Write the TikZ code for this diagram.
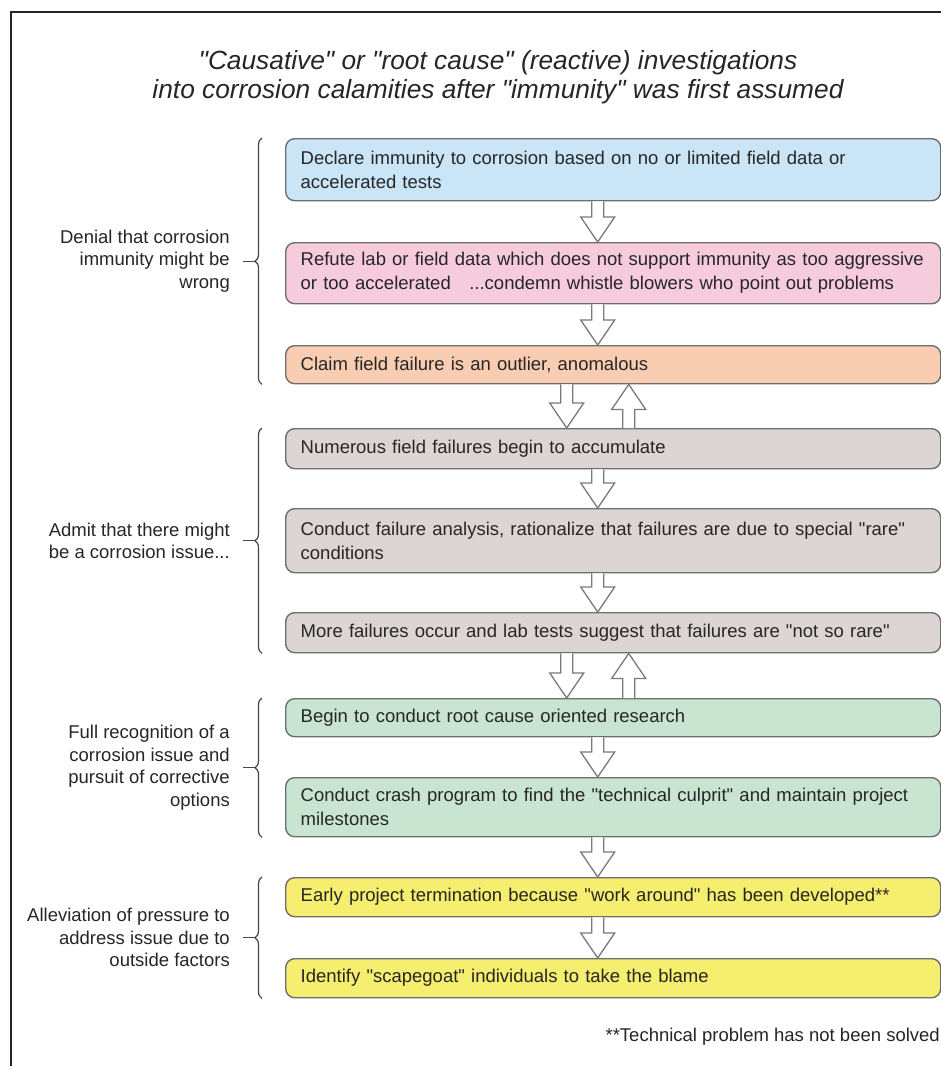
\documentclass[tikz,border=0pt]{standalone}
\usepackage{fontspec}
\setmainfont{Liberation Sans}[Ligatures=TeXOff]
\usetikzlibrary{calc,decorations.pathreplacing}
\definecolor{cblue}{HTML}{C9E5F6}
\definecolor{cpink}{HTML}{F6CCDD}
\definecolor{corange}{HTML}{F8CDB2}
\definecolor{cgray}{HTML}{DDD4D4}
\definecolor{cgreen}{HTML}{C9E5D2}
\definecolor{cyellow}{HTML}{F6EE6E}
\definecolor{cedge}{HTML}{6E6E6E}
\definecolor{carrow}{HTML}{7A7A7A}
\definecolor{cink}{HTML}{262626}
\tikzset{
  stepbox/.style={draw=cedge, line width=1.4pt, rounded corners=9pt, anchor=north west,
    minimum width=655pt, text width=625pt, align=left, inner xsep=15pt, inner ysep=2pt,
    font=\fontsize{18.5}{24}\selectfont, text=cink},
  blockarrow/.style={draw=carrow, line width=1.3pt, fill=white, line join=miter},
  bracestyle/.style={draw=cink!85, line width=1.2pt, decorate, decoration={brace, amplitude=7pt}},
  ticksty/.style={draw=cink!85, line width=1.2pt},
  grouplabel/.style={anchor=east, align=right, font=\fontsize{18.5}{22.5}\selectfont, text=cink, inner sep=0pt},
}
\newcommand{\dnarr}[3]{%
  \draw[blockarrow] let \p1=($(#1.south)+(#3,0)$), \p2=($(#2.north)+(#3,0)$) in
    (\x1-6pt,\y1) -- (\x1-6pt,\y2+25pt) -- (\x1-17pt,\y2+25pt) -- (\x1,\y2)
    -- (\x1+17pt,\y2+25pt) -- (\x1+6pt,\y2+25pt) -- (\x1+6pt,\y1);}
\newcommand{\uparr}[3]{%
  \draw[blockarrow] let \p1=($(#1.north)+(#3,0)$), \p2=($(#2.south)+(#3,0)$) in
    (\x1-6pt,\y1) -- (\x1-6pt,\y2-25pt) -- (\x1-17pt,\y2-25pt) -- (\x1,\y2)
    -- (\x1+17pt,\y2-25pt) -- (\x1+6pt,\y2-25pt) -- (\x1+6pt,\y1);}
\begin{document}
\begin{tikzpicture}[x=1pt,y=1pt]
\useasboundingbox (0,0) rectangle (941,-1066);
\fill[white] (0,0) rectangle (941,-1066);
% frame
\draw[cink, line width=1.6pt] (11,-1066) -- (11,-12) -- (941,-12);
% title
\node[font=\fontsize{26.3}{29}\selectfont\itshape, text=cink, align=center] (title) at (498,-77)
  {"Causative" or "root cause" (reactive) investigations\\into corrosion calamities after "immunity" was first assumed};
% boxes
\node[stepbox, fill=cblue, minimum height=62pt] (b1) at (285,-138)
  {Declare immunity to corrosion based on no or limited field data or\\accelerated tests};
\node[stepbox, fill=cpink, minimum height=61pt] (b2) at (285,-242)
  {Refute lab or field data which does not support immunity as too aggressive\\or too accelerated \ \ ...condemn whistle blowers who point out problems};
\node[stepbox, fill=corange, minimum height=38pt] (b3) at (285,-345)
  {Claim field failure is an outlier, anomalous};
\node[stepbox, fill=cgray, minimum height=40pt] (b4) at (285,-428)
  {Numerous field failures begin to accumulate};
\node[stepbox, fill=cgray, minimum height=64pt] (b5) at (285,-508)
  {Conduct failure analysis, rationalize that failures are due to special "rare"\\conditions};
\node[stepbox, fill=cgray, minimum height=40pt] (b6) at (285,-612)
  {More failures occur and lab tests suggest that failures are "not so rare"};
\node[stepbox, fill=cgreen, minimum height=38pt] (b7) at (285,-698)
  {Begin to conduct root cause oriented research};
\node[stepbox, fill=cgreen, minimum height=59pt] (b8) at (285,-777)
  {Conduct crash program to find the "technical culprit" and maintain project\\milestones};
\node[stepbox, fill=cyellow, minimum height=39pt] (b9) at (285,-877)
  {Early project termination because "work around" has been developed**};
\node[stepbox, fill=cyellow, minimum height=39pt] (b10) at (285,-958)
  {Identify "scapegoat" individuals to take the blame};
% arrows
\dnarr{b1}{b2}{-15.5}
\dnarr{b2}{b3}{-15.5}
\dnarr{b3}{b4}{-46.5}
\uparr{b4}{b3}{15.5}
\dnarr{b4}{b5}{-15.5}
\dnarr{b5}{b6}{-15.5}
\dnarr{b6}{b7}{-46.5}
\uparr{b7}{b6}{15.5}
\dnarr{b7}{b8}{-15.5}
\dnarr{b8}{b9}{-15.5}
\dnarr{b9}{b10}{-15.5}
% braces and labels
\draw[bracestyle] ($(b3.south west)+(-23,0)$) -- ($(b1.north west)+(-23,0)$);
\coordinate (g1) at ($(b1.north west)!0.5!(b3.south west)$);
\draw[ticksty] ($(g1)+(-30,0)$) -- ($(g1)+(-42,0)$);
\node[grouplabel] (l1) at ($(g1)+(-55,0)$) {Denial that corrosion\\immunity might be\\wrong};
\draw[bracestyle] ($(b6.south west)+(-23,0)$) -- ($(b4.north west)+(-23,0)$);
\coordinate (g2) at ($(b4.north west)!0.5!(b6.south west)$);
\draw[ticksty] ($(g2)+(-30,0)$) -- ($(g2)+(-42,0)$);
\node[grouplabel] (l2) at ($(g2)+(-55,0)$) {Admit that there might\\be a corrosion issue...};
\draw[bracestyle] ($(b8.south west)+(-23,0)$) -- ($(b7.north west)+(-23,0)$);
\coordinate (g3) at ($(b7.north west)!0.5!(b8.south west)$);
\draw[ticksty] ($(g3)+(-30,0)$) -- ($(g3)+(-42,0)$);
\node[grouplabel] (l3) at ($(g3)+(-55,0)$) {Full recognition of a\\corrosion issue and\\pursuit of corrective\\options};
\draw[bracestyle] ($(b10.south west)+(-23,0)$) -- ($(b9.north west)+(-23,0)$);
\coordinate (g4) at ($(b9.north west)!0.5!(b10.south west)$);
\draw[ticksty] ($(g4)+(-30,0)$) -- ($(g4)+(-42,0)$);
\node[grouplabel] (l4) at ($(g4)+(-55,0)$) {Alleviation of pressure to\\address issue due to\\outside factors};
% footnote
\node[anchor=east, font=\fontsize{18.5}{22}\selectfont, text=cink, inner sep=0pt] (fn) at (940,-1037)
  {**Technical problem has not been solved};
\end{tikzpicture}
\end{document}
